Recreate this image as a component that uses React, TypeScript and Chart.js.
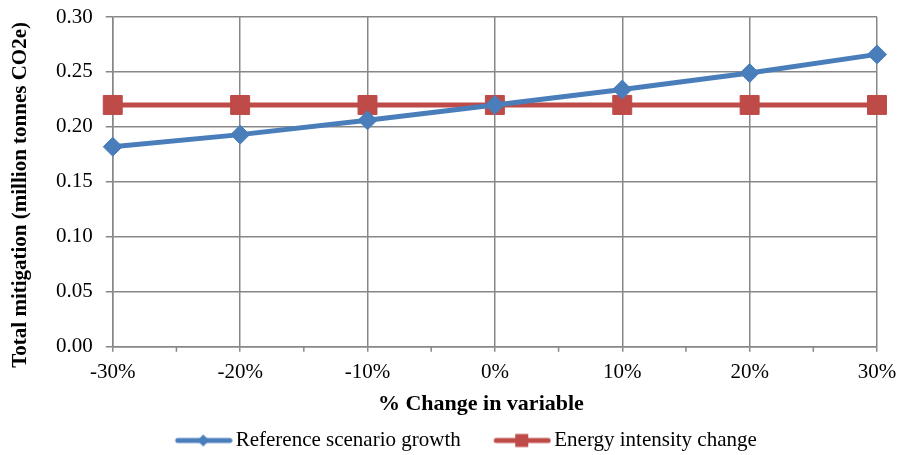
import React, { useEffect, useRef } from "react";
import { Chart, registerables } from "chart.js";

Chart.register(...registerables);

const categories = ["-30%", "-20%", "-10%", "0%", "10%", "20%", "30%"];
const referenceGrowth = [0.182, 0.193, 0.206, 0.22, 0.234, 0.249, 0.266];
const energyIntensity = [0.22, 0.22, 0.22, 0.22, 0.22, 0.22, 0.22];
const seriesNames = ["Reference scenario growth", "Energy intensity change"];
const xTitle = "% Change in variable";
const yTitle = "Total mitigation (million tonnes CO2e)";
const BLUE = "#4A7EBB";
const RED = "#BE4B48";
const GRID = "#878787";
const FONT = "'Liberation Serif', 'Times New Roman', serif";
const LEGEND_BOX = 80;

function legendImage(color: string, shape: "diamond" | "square") {
  const w = LEGEND_BOX + 15;
  const c = document.createElement("canvas");
  c.width = w;
  c.height = 16;
  const ctx = c.getContext("2d")!;
  ctx.strokeStyle = color;
  ctx.fillStyle = color;
  ctx.lineWidth = 5;
  ctx.lineCap = "round";
  const x0 = w - 57;
  const x1 = w - 2;
  const cx = (x0 + x1) / 2;
  ctx.beginPath();
  ctx.moveTo(x0 + 2, 8);
  ctx.lineTo(x1 - 1, 8);
  ctx.stroke();
  ctx.beginPath();
  if (shape === "diamond") {
    ctx.moveTo(cx, 2);
    ctx.lineTo(cx + 6, 8);
    ctx.lineTo(cx, 14);
    ctx.lineTo(cx - 6, 8);
    ctx.closePath();
  } else {
    ctx.rect(cx - 6.5, 1.5, 13, 13);
  }
  ctx.fill();
  return c;
}

const extras = {
  id: "extras",
  afterDraw(chart: any) {
    const xs = chart.scales.x;
    const ys = chart.scales.y;
    const ctx = chart.ctx;
    ctx.save();
    // minor tick marks between categories
    ctx.strokeStyle = GRID;
    ctx.lineWidth = 1.5;
    for (let i = 0; i < categories.length - 1; i++) {
      const x = (xs.getPixelForValue(i) + xs.getPixelForValue(i + 1)) / 2;
      ctx.beginPath();
      ctx.moveTo(x, ys.bottom);
      ctx.lineTo(x, ys.bottom + 5);
      ctx.stroke();
    }
    // axis titles
    ctx.fillStyle = "#000";
    ctx.textAlign = "center";
    ctx.textBaseline = "middle";
    ctx.font = `bold 22px ${FONT}`;
    const ca = chart.chartArea;
    ctx.fillText(xTitle, (ca.left + ca.right) / 2 - 14, 404);
    ctx.font = `bold 21px ${FONT}`;
    ctx.translate(21, (ca.top + ca.bottom) / 2 + 13);
    ctx.rotate(-Math.PI / 2);
    ctx.fillText(yTitle, 0, 0);
    ctx.restore();
  },
};

export default function App() {
  const ref = useRef<HTMLCanvasElement>(null);
  useEffect(() => {
    document.body.style.margin = "0";
    const imgs = [legendImage(BLUE, "diamond"), legendImage(RED, "square")];
    const chart = new Chart(ref.current!, {
      type: "line",
      data: {
        labels: categories,
        datasets: [
          {
            label: seriesNames[0],
            data: referenceGrowth,
            borderColor: BLUE,
            backgroundColor: BLUE,
            borderWidth: 5,
            pointStyle: "rectRot",
            pointRadius: 9.5,
            pointBorderWidth: 1,
            pointBorderColor: BLUE,
            pointBackgroundColor: BLUE,
          },
          {
            label: seriesNames[1],
            data: energyIntensity,
            borderColor: RED,
            backgroundColor: RED,
            borderWidth: 5,
            pointStyle: "rect",
            pointRadius: 13.4,
            pointBorderWidth: 1,
            pointBorderColor: RED,
            pointBackgroundColor: RED,
          },
        ],
      },
      options: {
        animation: false,
        responsive: false,
        maintainAspectRatio: false,
        layout: { padding: { top: 17, right: 0, left: 3, bottom: 0 } },
        plugins: {
          tooltip: { enabled: false },
          legend: {
            position: "bottom",
            maxHeight: 28,
            labels: {
              usePointStyle: true,
              pointStyleWidth: LEGEND_BOX,
              color: "#000",
              font: { family: FONT, size: 21 },
              padding: 3,
              generateLabels: (ch: any) =>
                Chart.defaults.plugins.legend.labels
                  .generateLabels(ch)
                  .map((l: any, i: number) => ({ ...l, pointStyle: imgs[i] })),
            },
          },
        },
        scales: {
          x: {
            offset: false,
            grid: { color: GRID, lineWidth: 1.5, tickLength: 5 },
            border: { color: GRID, width: 1.5 },
            ticks: { color: "#000", font: { family: FONT, size: 21 }, maxRotation: 0, padding: 8 },
            afterFit: (s: any) => {
              s.height += 34;
              s.paddingRight = 22;
              s.paddingLeft = 0;
            },
          },
          y: {
            min: 0,
            max: 0.3,
            grid: { color: GRID, lineWidth: 1.5, tickLength: 7 },
            border: { color: GRID, width: 1.5 },
            ticks: {
              stepSize: 0.05,
              color: "#000",
              font: { family: FONT, size: 21 },
              padding: 13,
              callback: (v: any) => Number(v).toFixed(2),
            },
            afterFit: (s: any) => {
              s.width += 40;
              s.paddingTop = 0;
            },
          },
        },
      },
      plugins: [extras],
    });
    return () => chart.destroy();
  }, []);
  return (
    <div style={{ width: 899, height: 455, background: "#fff" }}>
      <canvas ref={ref} width={899} height={455} style={{ display: "block" }} />
    </div>
  );
}
